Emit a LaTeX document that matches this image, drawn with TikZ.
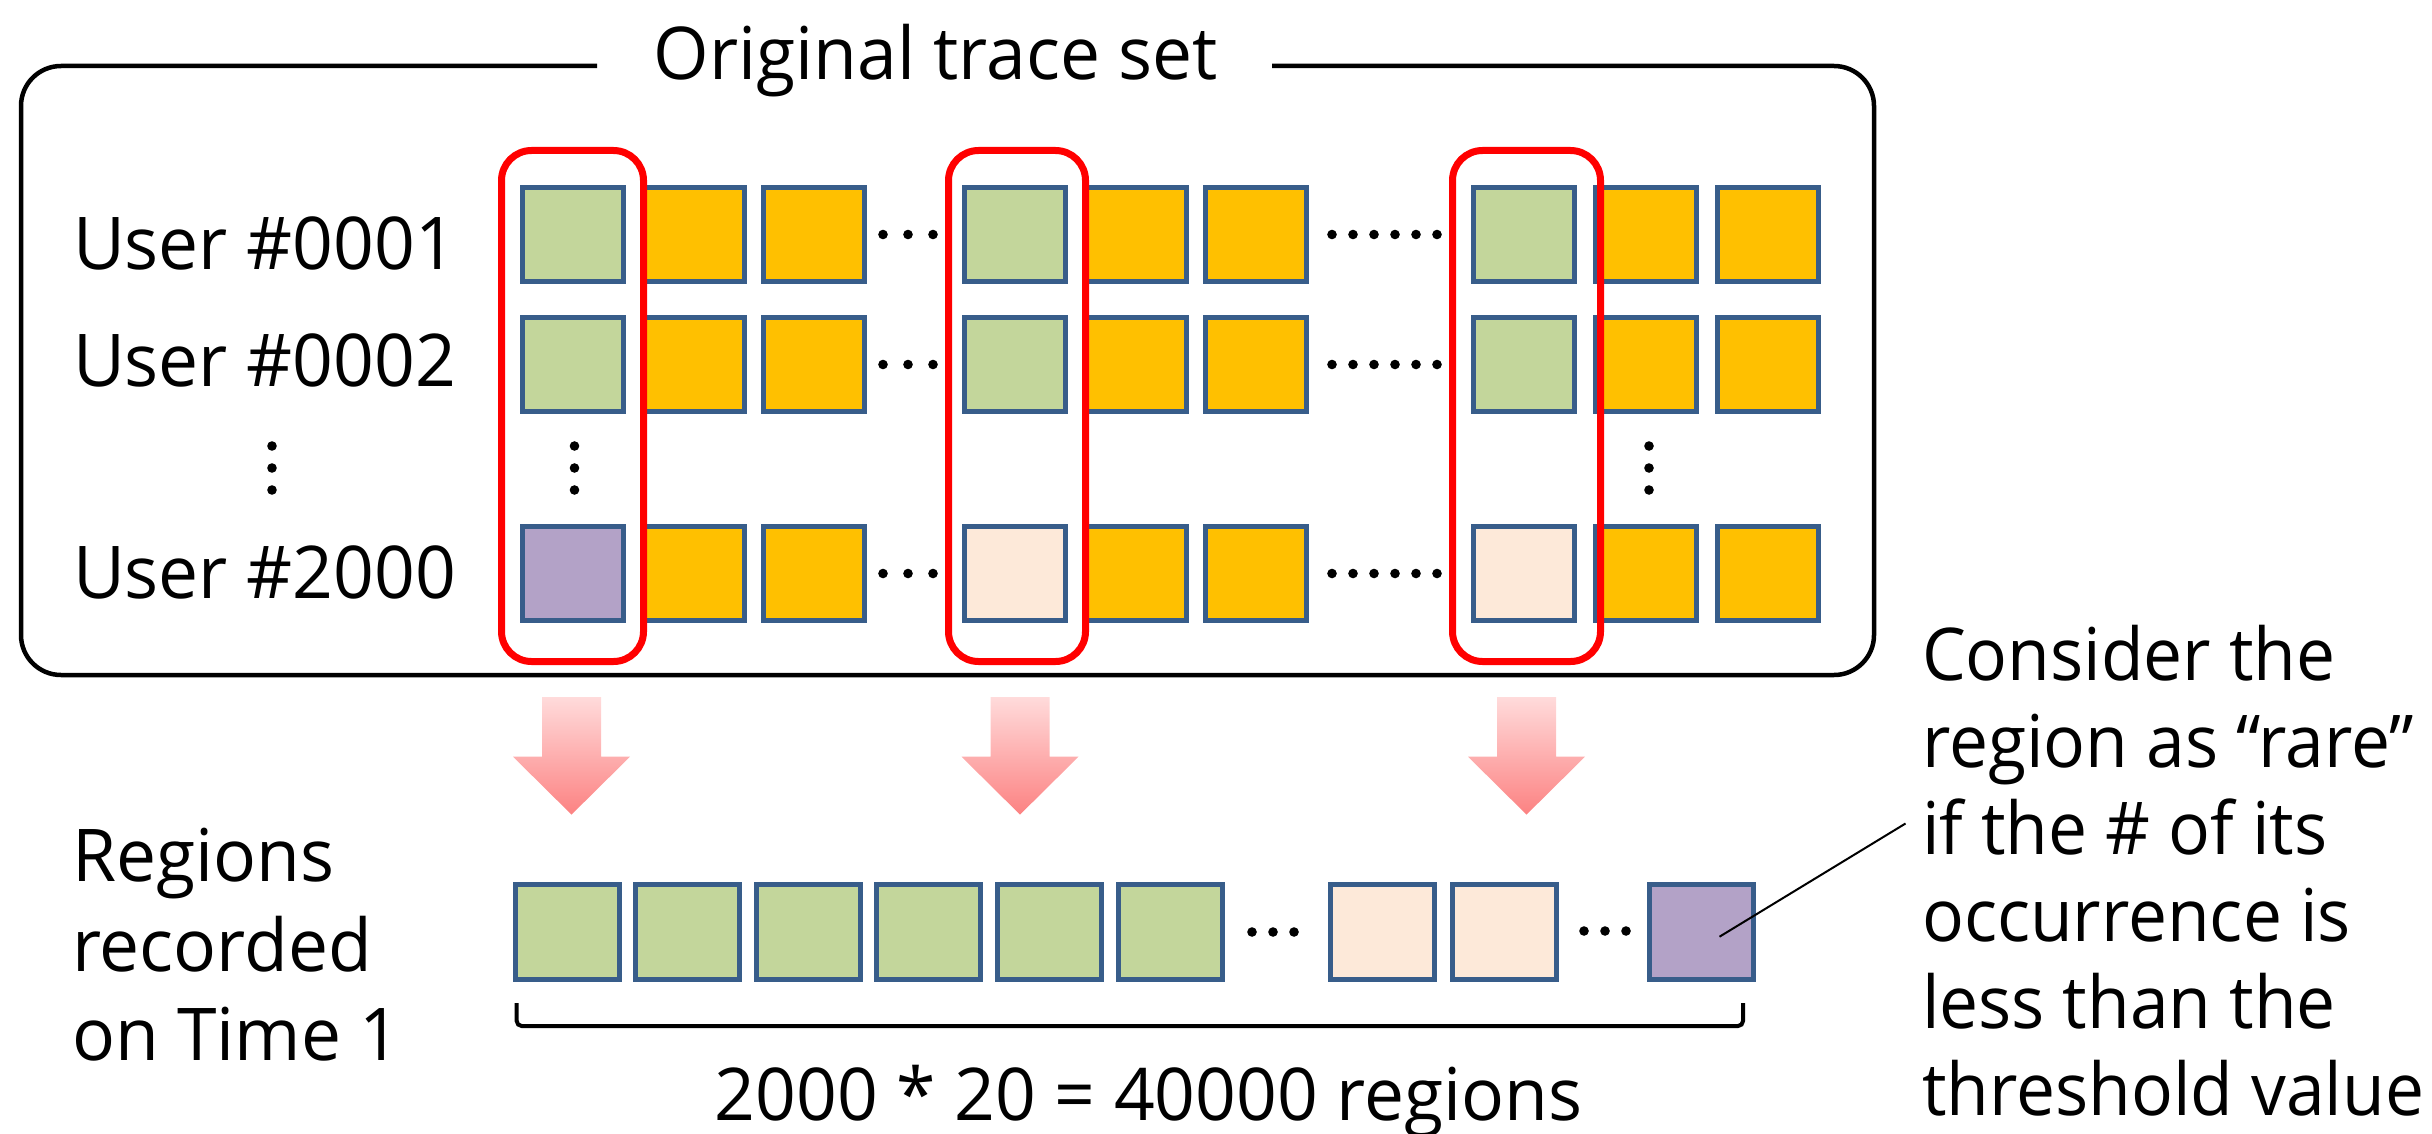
\documentclass[tikz,border=0pt]{standalone}
\usepackage{fontspec}
\setmainfont[FakeStretch=0.98]{Open Sans}
\newfontfamily\notefont[FakeStretch=0.955]{Open Sans}
\definecolor{bordc}{RGB}{56,93,138}
\definecolor{grn}{RGB}{195,214,155}
\definecolor{org}{RGB}{255,192,0}
\definecolor{pnk}{RGB}{253,233,217}
\definecolor{prp}{RGB}{179,162,199}
\definecolor{redb}{RGB}{255,0,0}
\definecolor{arTop}{RGB}{255,219,219}
\definecolor{arBot}{RGB}{252,130,130}
\begin{document}
\begin{tikzpicture}[x=1pt,y=-1pt,
  txt/.style={inner sep=0pt, outer sep=0pt, font=\fontsize{72.8}{89.5}\selectfont},
  sqtop/.style={draw=bordc, line width=5pt, minimum width=101pt, minimum height=94pt, inner sep=0pt, outer sep=0pt},
  sqbot/.style={draw=bordc, line width=5pt, minimum width=104pt, minimum height=95pt, inner sep=0pt, outer sep=0pt},
  redbox/.style={draw=redb, line width=7pt, rounded corners=30pt},
  dotc/.style={fill=black},
  bigarrow/.style={top color=arTop, bottom color=arBot, draw=none}
]
\useasboundingbox (0,0) rectangle (2432,1134);

% outer box with gap for title
\draw[line width=4.5pt, rounded corners=40pt] (597,66) -- (21,66) -- (21,675) -- (1874,675) -- (1874,66) -- (1272,66);
\node[txt, anchor=base] (title) at (936,80) {Original trace set};

% row labels
\node[txt, anchor=base west] (u1) at (73,269) {User \#0001};
\node[txt, anchor=base west] (u2) at (73,386) {User \#0002};
\node[txt, anchor=base west] (u3) at (73,598) {User \#2000};

% top grid
\foreach \r/\y in {1/234.5, 2/364.5} {
  \node[sqtop, fill=grn] (s\r c1) at (573,\y) {};
  \node[sqtop, fill=grn] (s\r c4) at (1015,\y) {};
  \node[sqtop, fill=grn] (s\r c7) at (1524,\y) {};
}
\node[sqtop, fill=prp] (s3c1) at (573,573.5) {};
\node[sqtop, fill=pnk] (s3c4) at (1015,573.5) {};
\node[sqtop, fill=pnk] (s3c7) at (1524,573.5) {};
\foreach \r/\y in {1/234.5, 2/364.5, 3/573.5} {
  \foreach \c/\x in {2/693.5, 3/814, 5/1136, 6/1256, 8/1646, 9/1768} {
    \node[sqtop, fill=org] (s\r c\c) at (\x,\y) {};
  }
  \foreach \x in {883,908,933} { \fill[dotc] (\x,\y) circle (4.8); }
  \foreach \x in {1332,1353,1374,1395,1416,1437} { \fill[dotc] (\x,\y) circle (4.8); }
}
% vertical dots
\foreach \x in {272, 574.5, 1649} {
  \foreach \y in {446,468,490} { \fill[dotc] (\x,\y) circle (4.8); }
}

% red boxes
\draw[redbox] (501.5,150.5) rectangle (643.5,661.5);
\draw[redbox] (948.5,150.5) rectangle (1085.5,661.5);
\draw[redbox] (1452.5,150.5) rectangle (1600.5,661.5);

% big arrows
\foreach \x in {571.5, 1020, 1526.5} {
  \shade[bigarrow] (\x-29.5,697) -- (\x+29.5,697) -- (\x+29.5,756.7) -- (\x+58.5,756.7) -- (\x,814.6) -- (\x-58.5,756.7) -- (\x-29.5,756.7) -- cycle;
}

% bottom label (base anchor = last line baseline)
\node[txt, anchor=base west, align=left] (reg) at (72,1060.7) {Regions\\recorded\\on Time 1};

% bottom row
\foreach \i/\x in {1/567, 2/687.5, 3/808, 4/928.5, 5/1049, 6/1170} {
  \node[sqbot, fill=grn] (b\i) at (\x,932) {};
}
\node[sqbot, fill=pnk] (b7) at (1382,932) {};
\node[sqbot, fill=pnk] (b8) at (1504,932) {};
\node[sqbot, fill=prp] (b9) at (1701,932) {};
\foreach \x in {1252,1273,1294} { \fill[dotc] (\x,932) circle (4.8); }
\foreach \x in {1584,1605,1626} { \fill[dotc] (\x,931) circle (4.8); }

% bracket
\coordinate (brL) at (516.7,1003);
\coordinate (brR) at (1743,1003);
\draw[line width=4pt, rounded corners=5pt] (brL) -- (516.7,1026) -- (1743,1026) -- (brR);
\node[txt, anchor=base] (cnt) at (1148.5,1120) {2000 * 20 = 40000 regions};

% right note (base anchor = last line baseline)
\node[txt, anchor=base west, align=left, font=\notefont\fontsize{72.8}{87}\selectfont] (note) at (1922,1115) {Consider the\\region as “rare”\\if the \# of its\\occurrence is\\less than the\\threshold value};
\coordinate (cs) at (1905.5,823.5);
\coordinate (ce) at (1719.5,936.7);
\draw[line width=2pt] (cs) -- (ce);
\end{tikzpicture}
\end{document}
